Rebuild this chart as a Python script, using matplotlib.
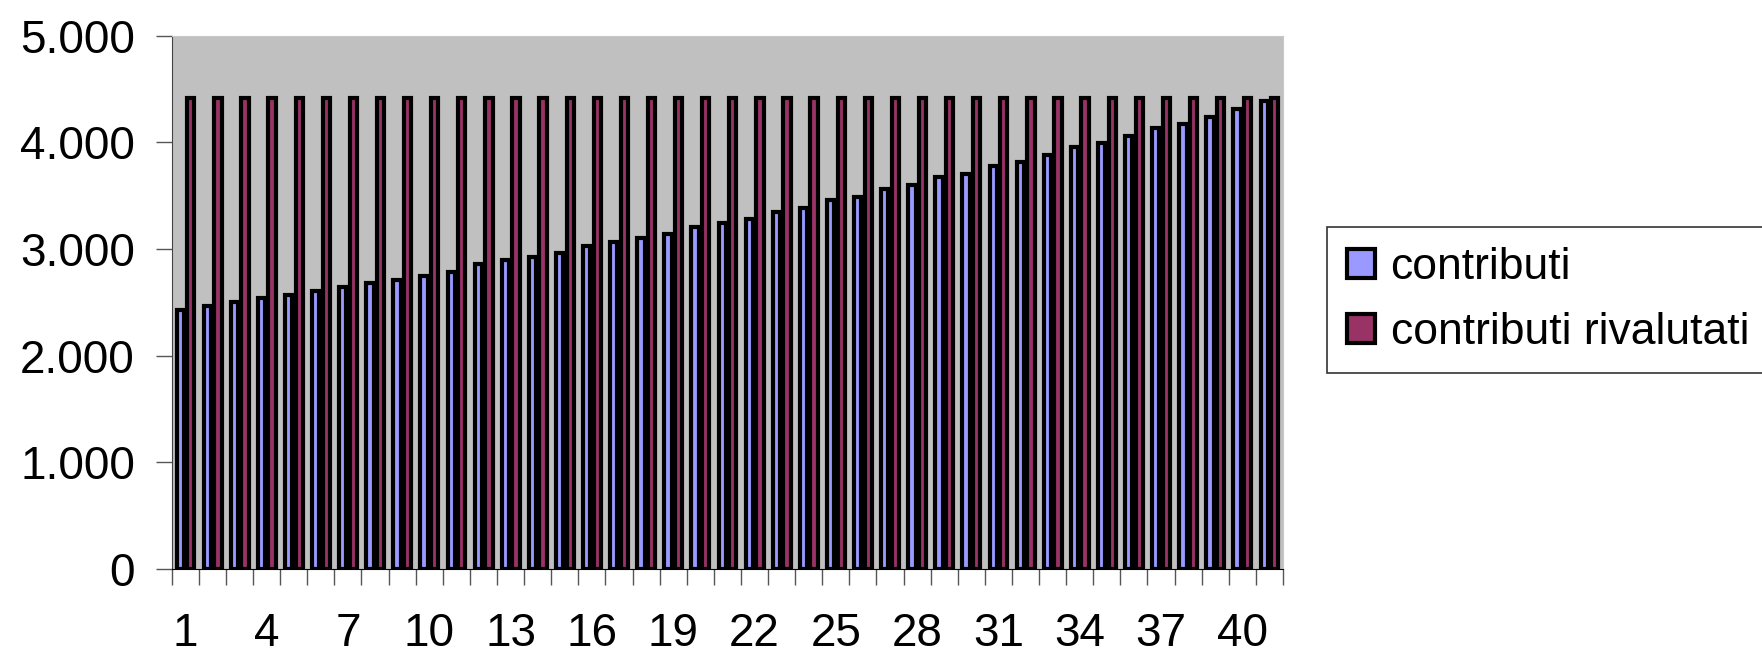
import matplotlib.pyplot as plt
import numpy as np

plt.rcParams['font.family'] = ['Liberation Sans', 'DejaVu Sans']

anni = np.arange(1, 42)
contributi = [2428, 2466, 2500, 2538, 2569, 2606, 2644, 2678, 2712, 2747,
              2781, 2856, 2894, 2928, 2962, 3031, 3069, 3100, 3138, 3209,
              3247, 3278, 3350, 3388, 3456, 3491, 3563, 3600, 3672, 3703,
              3778, 3813, 3884, 3956, 3991, 4062, 4131, 4169, 4241, 4313,
              4388]
rivalutati = [4415] * 41
etichette_x = [1, 4, 7, 10, 13, 16, 19, 22, 25, 28, 31, 34, 37, 40]
etichette_y = [0, 1000, 2000, 3000, 4000, 5000]

f = plt.figure(figsize=(17.62, 6.55), dpi=100)
ax = f.add_axes([0.0975, 0.1313, 0.6306, 0.8142])
ax.set_facecolor("#C0C0C0")

w = 0.27
ax.bar(anni - 0.19, contributi, w, color="#9999FF", edgecolor="black",
       linewidth=3.0, label="contributi")
ax.bar(anni + 0.2, rivalutati, w, color="#993366", edgecolor="black",
       linewidth=3.0, label="contributi rivalutati")

ax.set_xlim(0.5, 41.5)
ax.set_ylim(0, 5000)

# tacche sui confini delle categorie, etichette al centro
ax.set_xticks(np.arange(0.5, 42, 1))
ax.set_xticklabels([])
ax.set_xticks(etichette_x, minor=True)
ax.set_xticklabels([str(v) for v in etichette_x], minor=True)
ax.tick_params(axis="x", which="major", length=11.5, width=1, color="#555555")
ax.tick_params(axis="x", which="minor", length=0, pad=31, labelsize=33)

ax.set_yticks(etichette_y)
ax.set_yticklabels(["0", "1.000", "2.000", "3.000", "4.000", "5.000"])
ax.tick_params(axis="y", length=11.5, width=1, color="#555555", pad=15, labelsize=33)

for s in ("top", "right"):
    ax.spines[s].set_color("#C8C8C8")
ax.spines["left"].set_color("#444444")
ax.spines["bottom"].set_color("black")

leg = f.legend(loc="upper left", bbox_to_anchor=(1327 / 1762, 1 - 227 / 655),
               fontsize=32, frameon=True, fancybox=False, borderaxespad=0,
               borderpad=0.45, labelspacing=0.55, handlelength=0.62,
               handleheight=0.62, handletextpad=0.36)
leg.get_frame().set_edgecolor("black")
leg.get_frame().set_linewidth(1.2)

f.savefig("out.png", dpi=100)
